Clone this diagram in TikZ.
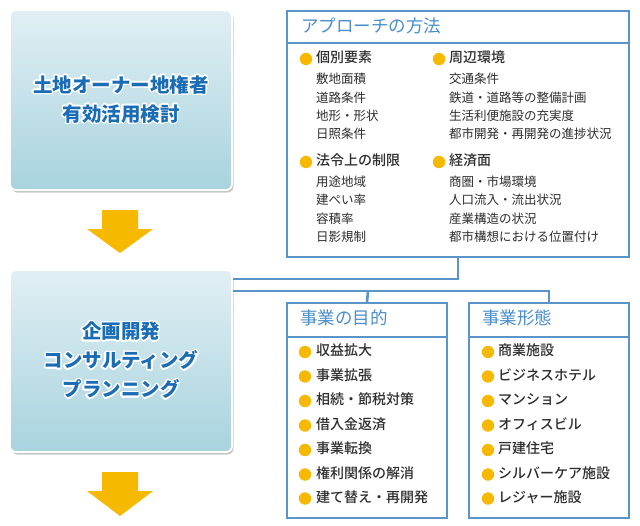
\documentclass[tikz,border=0pt]{standalone}
\usepackage{fontspec}
\setmainfont{Noto Sans CJK JP}
\IfFontExistsTF{Noto Sans CJK JP Medium}{\newfontfamily\jpmed{Noto Sans CJK JP Medium}}{\newfontfamily\jpmed{Noto Sans CJK JP}}
\usepackage[copies]{contour}
\contourlength{1.3pt}
\contournumber{24}
\usetikzlibrary{shadows}
\definecolor{lineblue}{HTML}{5A94C8}
\definecolor{titleblue}{HTML}{4A8ECB}
\definecolor{boxtext}{HTML}{1A6DB5}
\definecolor{topgrad}{HTML}{E1EFF4}
\definecolor{botgrad}{HTML}{A8D3DE}
\definecolor{arrowyellow}{HTML}{F7B900}
\definecolor{txt}{HTML}{2E2E2E}
\tikzset{
  stagebox/.style={rectangle, rounded corners=6pt, draw=white, line width=1.8pt,
    top color=topgrad, bottom color=botgrad,
    drop shadow={shadow xshift=1.5pt, shadow yshift=-2.5pt, fill=black, opacity=0.22},
    minimum width=222pt, align=center, font=\fontsize{19.5}{29}\selectfont\bfseries, text=boxtext},
  infobox/.style={rectangle, draw=lineblue, line width=1.6pt, fill=white, inner sep=0pt},
  title/.style={anchor=west, inner sep=0pt, text height=0.88em, text depth=0.12em,
    font=\fontsize{17.5}{20}\selectfont, text=titleblue},
  head/.style={anchor=west, inner sep=0pt, text height=0.88em, text depth=0.12em,
    font=\fontsize{14}{16}\selectfont\jpmed, text=txt},
  sub/.style={anchor=west, inner sep=0pt, text height=0.88em, text depth=0.12em,
    font=\fontsize{12.5}{14}\selectfont, text=txt},
  conn/.style={draw=lineblue, line width=2.6pt},
  divider/.style={draw=lineblue, line width=1.6pt},
}
\newcommand{\dotat}[2]{\fill[arrowyellow] (#1,#2) circle (6.2pt);}
\newcommand{\wl}[1]{\contour{white}{#1}}
\begin{document}
\begin{tikzpicture}[x=1pt,y=-1pt]
\useasboundingbox (0,0) rectangle (640,525);
\fill[white] (0,0) rectangle (640,525);

\coordinate (j1) at (458,279);
\coordinate (j2) at (549,291);
\coordinate (j3) at (368,291);

% stage boxes
\node[stagebox, minimum height=180pt] (land) at (121,100) {\wl{土地オーナー地権者}\\\wl{有効活用検討}};
\node[stagebox, minimum height=182pt] (plan) at (121,361) {\wl{企画開発}\\\wl{コンサルティング}\\\wl{プランニング}};

% arrows
\fill[arrowyellow] (102,210) -- (138,210) -- (138,229) -- (153,229) -- (120,253) -- (87,229) -- (102,229) -- cycle;
\fill[arrowyellow] (102,472) -- (138,472) -- (138,491) -- (153,491) -- (120,516) -- (87,491) -- (102,491) -- cycle;

% info boxes
\node[infobox, minimum width=342pt, minimum height=246pt] (appr) at (458,134) {};
\node[infobox, minimum width=160pt, minimum height=215pt] (purp) at (367,410.5) {};
\node[infobox, minimum width=160pt, minimum height=215pt] (kind) at (549,410.5) {};

\draw[conn] (appr.south) -- (j1) -- (plan.east |- j1);
\draw[conn] (plan.east |- j2) -- (j2) -- (kind.north);
\draw[conn] (j3) -- (purp.north);

% dividers
\draw[divider] (appr.west |- 0,43) -- (appr.east |- 0,43);
\draw[divider] (purp.west |- 0,337) -- (purp.east |- 0,337);
\draw[divider] (kind.west |- 0,337) -- (kind.east |- 0,337);

% titles
\node[title] (t1) at (301,29) {アプローチの方法};
\node[title] (t2) at (300,321) {事業の目的};
\node[title] (t3) at (482,321) {事業形態};

% approach content
\dotat{306}{59}\node[head] (h1) at (316,59) {個別要素};
\node[sub] (s11) at (316,80) {敷地面積};
\node[sub] (s12) at (316,98.5) {道路条件};
\node[sub] (s13) at (316,117) {地形・形状};
\node[sub] (s14) at (316,135) {日照条件};
\dotat{306}{162}\node[head] (h2) at (316,162) {法令上の制限};
\node[sub] (s21) at (316,183) {用途地域};
\node[sub] (s22) at (316,201) {建ぺい率};
\node[sub] (s23) at (316,219.5) {容積率};
\node[sub] (s24) at (316,237.5) {日影規制};
\dotat{439}{59}\node[head] (h3) at (449,59) {周辺環境};
\node[sub] (s31) at (449,80) {交通条件};
\node[sub] (s32) at (449,98.5) {鉄道・道路等の整備計画};
\node[sub] (s33) at (449,117) {生活利便施設の充実度};
\node[sub] (s34) at (449,135) {都市開発・再開発の進捗状況};
\dotat{439}{162}\node[head] (h4) at (449,162) {経済面};
\node[sub] (s41) at (449,183) {商圏・市場環境};
\node[sub] (s42) at (449,201) {人口流入・流出状況};
\node[sub] (s43) at (449,219.5) {産業構造の状況};
\node[sub] (s44) at (449,237.5) {都市構想における位置付け};

% purpose list
\dotat{305}{352}\node[head] (p1) at (316,352) {収益拡大};
\dotat{305}{376.5}\node[head] (p2) at (316,376.5) {事業拡張};
\dotat{305}{401}\node[head] (p3) at (316,401) {相続・節税対策};
\dotat{305}{425.5}\node[head] (p4) at (316,425.5) {借入金返済};
\dotat{305}{450}\node[head] (p5) at (316,450) {事業転換};
\dotat{305}{474.5}\node[head] (p6) at (316,474.5) {権利関係の解消};
\dotat{305}{498.5}\node[head] (p7) at (316,498.5) {建て替え・再開発};

% kind list
\dotat{488}{352}\node[head] (k1) at (498,352) {商業施設};
\dotat{488}{376.5}\node[head] (k2) at (498,376.5) {ビジネスホテル};
\dotat{488}{401}\node[head] (k3) at (498,401) {マンション};
\dotat{488}{425.5}\node[head] (k4) at (498,425.5) {オフィスビル};
\dotat{488}{450}\node[head] (k5) at (498,450) {戸建住宅};
\dotat{488}{474.5}\node[head] (k6) at (498,474.5) {シルバーケア施設};
\dotat{488}{498.5}\node[head] (k7) at (498,498.5) {レジャー施設};
\end{tikzpicture}
\end{document}
